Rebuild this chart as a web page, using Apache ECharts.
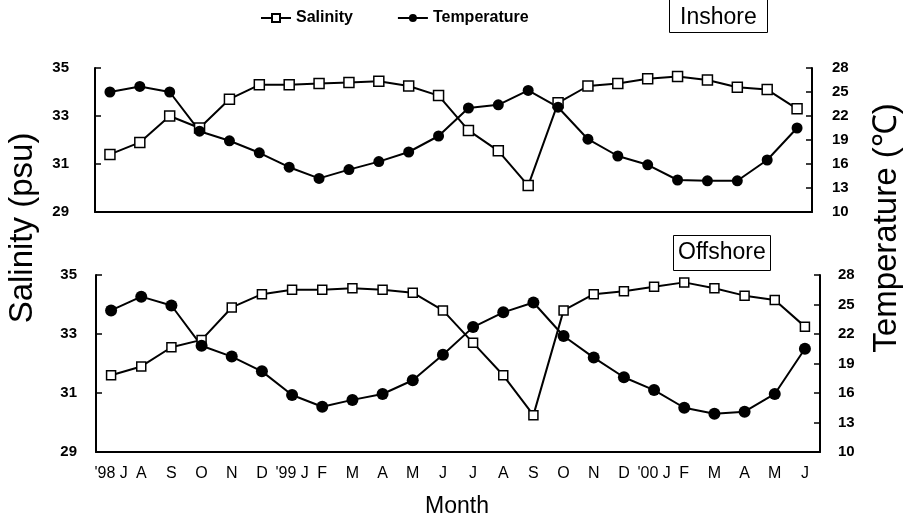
<!DOCTYPE html>
<html>
<head>
<meta charset="utf-8">
<script src="https://cdn.jsdelivr.net/npm/echarts@6/dist/echarts.min.js"></script>
<style>
html,body{margin:0;padding:0;background:#fff}
#chart{width:904px;height:523px}
</style>
</head>
<body>
<div id="chart"></div>
<script>
// months Jul 1998 - Jun 2000
var months = ["'98 J","A","S","O","N","D","'99 J","F","M","A","M","J",
              "J","A","S","O","N","D","'00 J","F","M","A","M","J"]

var inshoreSal  = [31.4, 31.9, 33.0, 32.5, 33.7, 34.3, 34.3, 34.35, 34.4, 34.45, 34.25, 33.85,
                   32.4, 31.55, 30.1, 33.55, 34.25, 34.35, 34.55, 34.65, 34.5, 34.2, 34.1, 33.3]
var inshoreTemp = [25.0, 25.7, 25.0, 20.1, 18.9, 17.4, 15.6, 14.2, 15.3, 16.3, 17.5, 19.5,
                   23.0, 23.4, 25.2, 23.1, 19.1, 17.0, 15.9, 14.0, 13.9, 13.9, 16.5, 20.5]
var offshoreSal  = [31.6, 31.9, 32.55, 32.8, 33.9, 34.35, 34.5, 34.5, 34.55, 34.5, 34.4, 33.8,
                    32.7, 31.6, 30.25, 33.8, 34.35, 34.45, 34.6, 34.75, 34.55, 34.3, 34.15, 33.25]
var offshoreTemp = [24.4, 25.8, 24.9, 20.8, 19.7, 18.2, 15.8, 14.6, 15.3, 15.9, 17.3, 19.9,
                    22.7, 24.2, 25.2, 21.8, 19.6, 17.6, 16.3, 14.5, 13.9, 14.1, 15.9, 20.5]

var salTicks = {min: 29, max: 35, interval: 2}
var tempTicks = {min: 10, max: 28, interval: 3}

var myChart = echarts.init(document.getElementById('chart'))
var font = 'Liberation Sans'
var black = '#000'

function xAxisFor(grid, showLabel){
  return {
    type: 'category', gridIndex: grid, data: months, boundaryGap: true,
    axisLine: {lineStyle: {color: black, width: 2}},
    axisTick: {inside: true, length: 5, lineStyle: {color: black, width: 1.5}},
    axisLabel: {show: showLabel, color: black, fontFamily: 'Liberation Sans Narrow, ' + font,
                fontSize: 16, margin: 14, interval: 0},
    splitLine: {show: false}
  }
}
function yAxisFor(grid, pos, t, margin){
  return {
    type: 'value', gridIndex: grid, position: pos,
    min: t.min, max: t.max, interval: t.interval,
    axisLine: {show: true, lineStyle: {color: black, width: 2}},
    axisTick: {show: true, inside: true, length: 6, lineStyle: {color: black, width: 1.5}},
    axisLabel: {color: black, fontFamily: font, fontWeight: 'bold', fontSize: 15, margin: margin},
    splitLine: {show: false}
  }
}
function salSeries(name, data, x, y, size){
  return {
    name: name, type: 'line', xAxisIndex: x, yAxisIndex: y, data: data,
    symbol: 'rect', symbolSize: size, showAllSymbol: true,
    lineStyle: {color: black, width: 2},
    itemStyle: {color: '#fff', borderColor: black, borderWidth: 1.5},
    emphasis: {disabled: true}
  }
}
function tempSeries(name, data, x, y, size){
  return {
    name: name, type: 'line', xAxisIndex: x, yAxisIndex: y, data: data,
    symbol: 'circle', symbolSize: size, showAllSymbol: true,
    lineStyle: {color: black, width: 2},
    itemStyle: {color: black},
    emphasis: {disabled: true}
  }
}

myChart.setOption({
  animation: false,
  backgroundColor: '#fff',
  title: [
    {text: 'Inshore', left: 669, top: -4, padding: [10, 11, 4, 11],
     borderColor: black, borderWidth: 1,
     textStyle: {fontFamily: font, fontWeight: 'normal', fontSize: 23, color: black}},
    {text: 'Offshore', left: 673, top: 235, padding: [6, 5, 7, 5],
     borderColor: black, borderWidth: 1,
     textStyle: {fontFamily: font, fontWeight: 'normal', fontSize: 23, color: black}}
  ],
  legend: {
    data: ['Salinity', 'Temperature'], left: 255, top: 5,
    itemWidth: 30, itemHeight: 10, itemGap: 44,
    textStyle: {fontFamily: font, fontWeight: 'bold', fontSize: 16, color: black}
  },
  grid: [
    {left: 95, right: 92, top: 68, bottom: 311},
    {left: 96, right: 84, top: 275, bottom: 71}
  ],
  xAxis: [xAxisFor(0, false), xAxisFor(1, true)],
  yAxis: [
    yAxisFor(0, 'left', salTicks, 26),
    yAxisFor(0, 'right', tempTicks, 20),
    yAxisFor(1, 'left', salTicks, 19),
    yAxisFor(1, 'right', tempTicks, 18)
  ],
  series: [
    salSeries('Salinity', inshoreSal, 0, 0, 10),
    tempSeries('Temperature', inshoreTemp, 0, 1, 11),
    salSeries('Salinity', offshoreSal, 1, 2, 9),
    tempSeries('Temperature', offshoreTemp, 1, 3, 12)
  ],
  graphic: [
    {type: 'text', x: 23, y: 228, rotation: Math.PI / 2,
     style: {text: 'Salinity (psu)', font: '33px "Liberation Sans"', fill: black,
             textAlign: 'center', textVerticalAlign: 'middle'}},
    {type: 'text', x: 887, y: 228, rotation: Math.PI / 2,
     style: {text: 'Temperature (℃)', font: '33px "Liberation Sans"', fill: black,
             textAlign: 'center', textVerticalAlign: 'middle'}},
    {type: 'text', x: 457, y: 507,
     style: {text: 'Month', font: '23px "Liberation Sans"', fill: black,
             textAlign: 'center', textVerticalAlign: 'middle'}}
  ]
})
</script>
</body>
</html>
